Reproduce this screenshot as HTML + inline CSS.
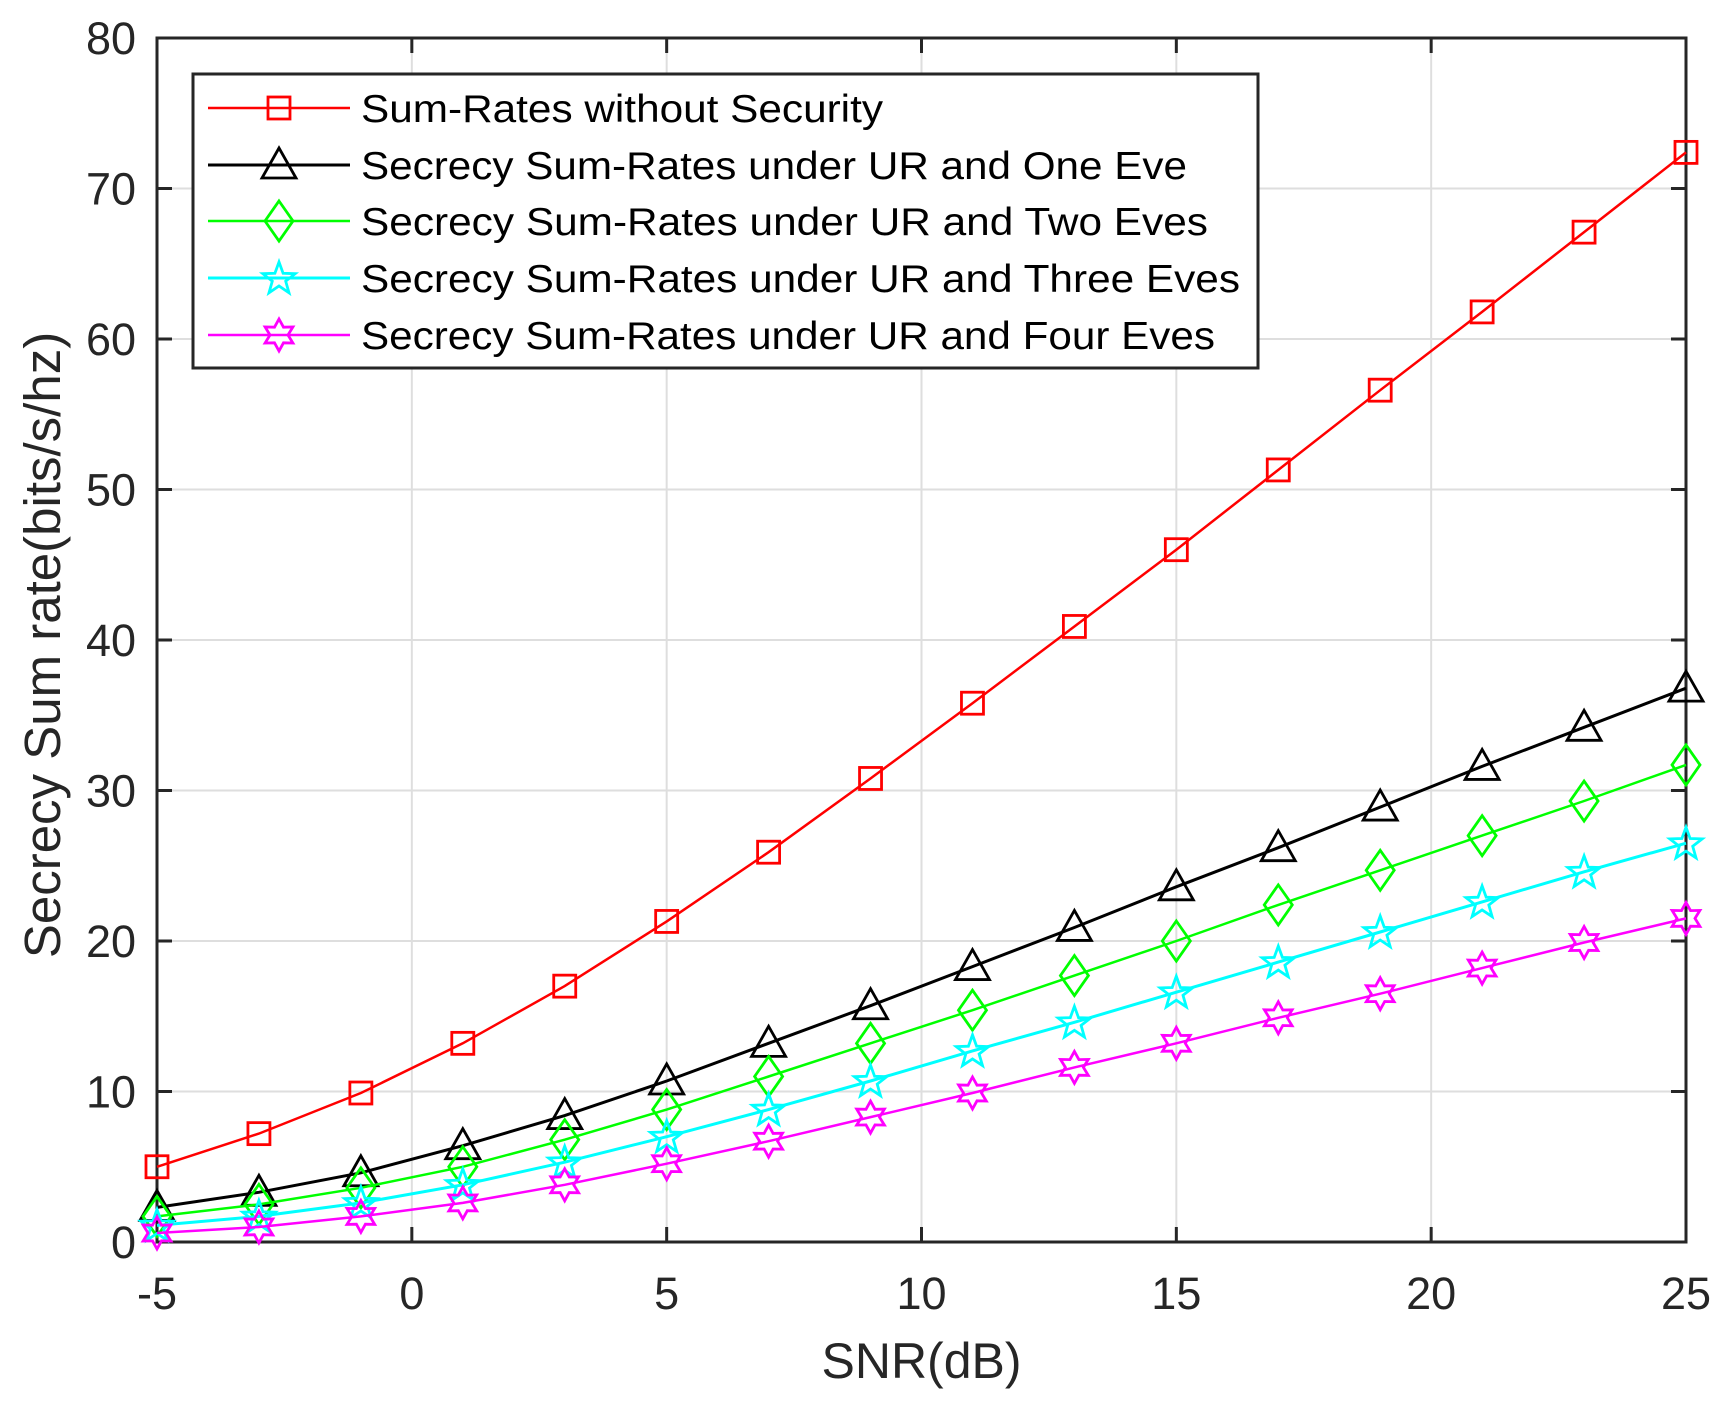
<!DOCTYPE html>
<html><head><meta charset="utf-8"><style>html,body{margin:0;padding:0;background:#fff}svg{display:block}</style></head>
<body>
<svg id="s" width="1732" height="1408" viewBox="0 0 1732 1408" xmlns="http://www.w3.org/2000/svg" font-family="Liberation Sans, Arial, sans-serif"></svg>
<script>
const L=157,R=1686,T=38,B=1242;
const X=v=>L+(v+5)*(R-L)/30, Y=v=>B-v*(B-T)/80;
let s='<rect x="0" y="0" width="1732" height="1408" fill="#fff"/>';
for(let v=-5;v<=25;v+=5){const x=X(v);s+=`<line x1="${x}" y1="${T}" x2="${x}" y2="${B}" stroke="#dedede" stroke-width="2"/>`;}
for(let v=0;v<=80;v+=10){const y=Y(v);s+=`<line x1="${L}" y1="${y}" x2="${R}" y2="${y}" stroke="#dedede" stroke-width="2"/>`;}
for(let v=-5;v<=25;v+=5){const x=X(v);s+=`<line x1="${x}" y1="${B}" x2="${x}" y2="${B-15}" stroke="#262626" stroke-width="3"/><line x1="${x}" y1="${T}" x2="${x}" y2="${T+15}" stroke="#262626" stroke-width="3"/><text x="${x}" y="${B+67}" font-size="45" text-anchor="middle" fill="#262626">${v}</text>`;}
for(let v=0;v<=80;v+=10){const y=Y(v);s+=`<line x1="${L}" y1="${y}" x2="${L+15}" y2="${y}" stroke="#262626" stroke-width="3"/><line x1="${R}" y1="${y}" x2="${R-15}" y2="${y}" stroke="#262626" stroke-width="3"/><text x="${L-21}" y="${y+16}" font-size="45" text-anchor="end" fill="#262626">${v}</text>`;}
s+=`<rect x="${L}" y="${T}" width="${R-L}" height="${B-T}" fill="none" stroke="#262626" stroke-width="3"/>`;
s+=`<text x="${X(10)}" y="1378" font-size="50" text-anchor="middle" fill="#262626">SNR(dB)</text>`;
s+=`<text transform="translate(60,645) rotate(-90)" font-size="51" text-anchor="middle" fill="#262626">Secrecy Sum rate(bits/s/hz)</text>`;
const xs=[-5,-3,-1,1,3,5,7,9,11,13,15,17,19,21,23,25];
const D=[
['#ff0000','sq',[5.0,7.2,9.9,13.2,17.0,21.3,25.9,30.8,35.8,40.9,46.0,51.3,56.6,61.8,67.1,72.4],2.5],
['#000000','tri',[2.3,3.3,4.6,6.4,8.4,10.7,13.2,15.7,18.3,20.9,23.6,26.2,28.9,31.6,34.2,36.8],3],
['#00ff00','dia',[1.7,2.5,3.6,5.0,6.8,8.8,11.0,13.2,15.4,17.7,20.0,22.4,24.7,27.0,29.3,31.7],2.5],
['#00ffff','pent',[1.1,1.7,2.6,3.8,5.3,7.0,8.8,10.7,12.7,14.6,16.6,18.6,20.6,22.6,24.6,26.5],3],
['#ff00ff','hex',[0.6,1.0,1.7,2.6,3.8,5.2,6.7,8.3,9.9,11.6,13.2,14.9,16.5,18.2,19.9,21.5],2.5]];
function star(cx,cy,n,ro,ri){let p=[];for(let i=0;i<2*n;i++){const r=i%2?ri:ro,a=-Math.PI/2+i*Math.PI/n;p.push((cx+r*Math.cos(a)).toFixed(1)+','+(cy+r*Math.sin(a)).toFixed(1));}return p.join(' ');}
function mk(t,x,y,c){const st=`fill="none" stroke="${c}" stroke-width="2.8"`;
 if(t=='sq')return `<rect x="${x-11}" y="${y-11}" width="22" height="22" ${st}/>`;
 if(t=='tri')return `<polygon points="${x},${y-17} ${x+17},${y+13} ${x-17},${y+13}" ${st}/>`;
 if(t=='dia')return `<polygon points="${x},${y-20} ${x+14},${y} ${x},${y+20} ${x-14},${y}" ${st}/>`;
 if(t=='pent')return `<polygon points="${star(x,y+1,5,17,7)}" ${st}/>`;
 return `<polygon points="${star(x,y,6,16,9)}" ${st}/>`;}
for(const [c,t,v,w] of D){s+=`<polyline fill="none" stroke="${c}" stroke-width="${w}" points="${xs.map((x,i)=>X(x).toFixed(1)+','+Y(v[i]).toFixed(1)).join(' ')}"/>`;
 xs.forEach((x,i)=>s+=mk(t,X(x),Y(v[i]),c));}
s+=`<rect x="193" y="74" width="1065" height="294" fill="#fff" stroke="#262626" stroke-width="3"/>`;
const labels=['Sum-Rates without Security','Secrecy Sum-Rates under UR and One Eve','Secrecy Sum-Rates under UR and Two Eves','Secrecy Sum-Rates under UR and Three Eves','Secrecy Sum-Rates under UR and Four Eves'];
const wl=[522,826,847,879,854];
const ry=[108,165,221,278,335];
D.forEach((d,i)=>{const y=ry[i];s+=`<line x1="208" y1="${y}" x2="350" y2="${y}" stroke="${d[0]}" stroke-width="${d[3]}"/>`+mk(d[1],279,y,d[0])+`<text x="361" y="${y+14}" font-size="39" fill="#000" textLength="${wl[i]}" lengthAdjust="spacingAndGlyphs">${labels[i]}</text>`;});
document.getElementById('s').innerHTML=s;
</script>
</body></html>
